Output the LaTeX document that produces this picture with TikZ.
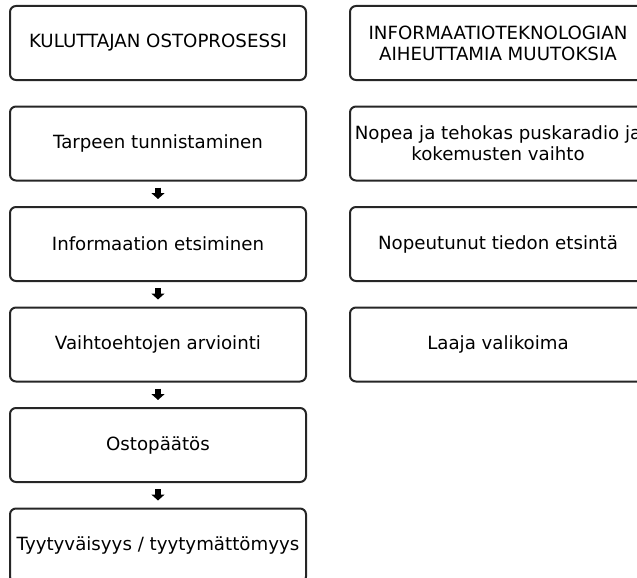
\documentclass[tikz,border=0pt]{standalone}
\usepackage{fontspec}
\setmainfont{DejaVu Sans}
\usetikzlibrary{positioning,arrows.meta}
\tikzset{
    process-box/.style = {draw=black!85, line width=2pt, rounded corners=6pt, rectangle, minimum width=296pt, minimum height=74pt, inner xsep=0pt, align=center, font=\fontsize{18.2}{21}\selectfont},
    step-arrow/.style = {-{Triangle[length=6pt,width=13pt]}, line width=6pt, black, shorten <=6pt, shorten >=7pt},
}

\begin{document}
\begin{tikzpicture}[x=1pt, y=1pt, node distance=24.5pt]
\useasboundingbox (0,0) rectangle (637,-578);
\node [process-box] (title) at (158,-43) {KULUTTAJAN OSTOPROSESSI};
\node [process-box, below=of title] (need) {Tarpeen tunnistaminen};
\node [process-box, below=of need] (search) {Informaation etsiminen};
\node [process-box, below=of search] (eval) {Vaihtoehtojen arviointi};
\node [process-box, below=of eval] (decision) {Ostopäätös};
\node [process-box, below=of decision] (satisfaction) {Tyytyväisyys / tyytymättömyys};
\node [process-box, right=42pt of title] (ittitle) {INFORMAATIOTEKNOLOGIAN\\AIHEUTTAMIA MUUTOKSIA};
\node [process-box, right=42pt of need] (wom) {Nopea ja tehokas puskaradio ja\\kokemusten vaihto};
\node [process-box, right=42pt of search] (fastsearch) {Nopeutunut tiedon etsintä};
\node [process-box, right=42pt of eval] (selection) {Laaja valikoima};
\draw [step-arrow] (need) -- (search);
\draw [step-arrow] (search) -- (eval);
\draw [step-arrow] (eval) -- (decision);
\draw [step-arrow] (decision) -- (satisfaction);
\end{tikzpicture}
\end{document}
